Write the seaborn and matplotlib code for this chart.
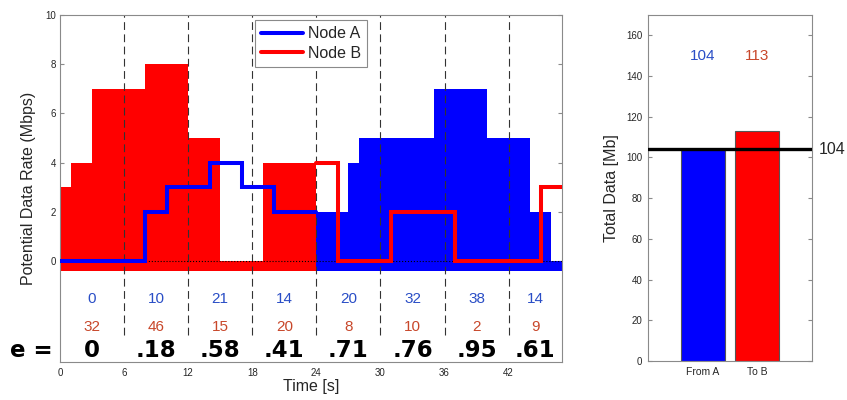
import matplotlib
matplotlib.use("Agg")
import numpy as np
import pandas as pd
import matplotlib.pyplot as plt
import seaborn as sns

# Potential data rate schedules (Mbps), piecewise constant between edges (s)
A_EDGES = [0, 8, 10, 14, 17, 20, 27, 28, 35, 40, 44, 46, 48]
A_RATE = [0, 2, 3, 4, 3, 2, 4, 5, 7, 5, 2, 0]
B_EDGES = [0, 1, 3, 8, 12, 15, 19, 26, 31, 37, 45, 48]
B_RATE = [3, 4, 7, 8, 5, 0, 4, 0, 2, 0, 3]

# Per-window data volumes and efficiency
WINDOW_EDGES = [0, 6, 12, 18, 24, 30, 36, 42, 47]
A_DATA = [0, 10, 21, 14, 20, 32, 38, 14]
B_DATA = [32, 46, 15, 20, 8, 10, 2, 9]
E_LABELS = ["0", ".18", ".58", ".41", ".71", ".76", ".95", ".61"]

# Totals
TOTAL_CATS = ["From A", "To B"]
TOTAL_VALS = [104, 113]
REFERENCE_TOTAL = 104

SWITCH_T = 24
BASE = -0.42
BLUE = "#0000ff"
RED = "#ff0000"
NUM_BLUE = "#2a4ec6"
NUM_RED = "#c8472a"
SPINE = "#8a8a8a"

sns.set_style("ticks")
plt.rcParams["font.family"] = ["Liberation Sans", "DejaVu Sans"]


def window(edges, rates, lo, hi):
    xs, ys = [], []
    for e0, e1, r in zip(edges[:-1], edges[1:], rates):
        s, e = max(e0, lo), min(e1, hi)
        if e > s:
            xs.append(s)
            ys.append(r)
    xs.append(hi)
    ys.append(ys[-1])
    return np.array(xs, float), np.array(ys, float)


fig = plt.figure(figsize=(8.47, 4.0), dpi=100)
ax = fig.add_axes([60 / 847, 38 / 400, 502 / 847, 347 / 400])
ax2 = fig.add_axes([648 / 847, 39 / 400, 164 / 847, 346 / 400])

# ---- left panel: rate schedules ----
bx, by = window(B_EDGES, B_RATE, 0, SWITCH_T)
ax.fill_between(bx, by, BASE, step="post", color=RED, lw=0, zorder=1)
ax_x, ax_y = window(A_EDGES, A_RATE, SWITCH_T, 48)
ax.fill_between(ax_x, ax_y, BASE, step="post", color=BLUE, lw=0, zorder=1)

ax.vlines(WINDOW_EDGES[1:-1], -3.0, 10, colors="#333333", lw=0.8,
          linestyles=(0, (7, 4)), zorder=2)
ax.axhline(0, color="black", ls=":", lw=0.8, zorder=2)

lx, ly = window(A_EDGES, A_RATE, 0, SWITCH_T)
rx, ry = window(B_EDGES, B_RATE, SWITCH_T, 48)
lines = pd.concat([
    pd.DataFrame({"t": lx, "rate": ly, "node": "Node A"}),
    pd.DataFrame({"t": rx, "rate": ry, "node": "Node B"}),
])
sns.lineplot(data=lines, x="t", y="rate", hue="node",
             palette={"Node A": BLUE, "Node B": RED},
             estimator=None, sort=False, drawstyle="steps-post",
             lw=2.9, ax=ax, zorder=4)
for ln in ax.get_lines():
    ln.set_solid_joinstyle("miter")

centers = [(a + b) / 2 for a, b in zip(WINDOW_EDGES[:-1], WINDOW_EDGES[1:])]
for c, a, b, e in zip(centers, A_DATA, B_DATA, E_LABELS):
    ax.text(c, -1.55, str(a), color=NUM_BLUE, fontsize=11,
            ha="center", va="center")
    ax.text(c, -2.67, str(b), color=NUM_RED, fontsize=11,
            ha="center", va="center")
    ax.text(c, -3.62, e, color="black", fontsize=16.5, fontweight="bold",
            family="DejaVu Sans", ha="center", va="center")
ax.text(-0.7, -3.62, "e =", color="black", fontsize=16.5, fontweight="bold",
        family="DejaVu Sans", ha="right", va="center", clip_on=False)

ax.set_xlim(0, 47)
ax.set_ylim(-4.1, 10)
ax.set_xticks(WINDOW_EDGES[:-1])
ax.set_yticks(range(0, 11, 2))
ax.tick_params(axis="y", direction="in", length=3, left=True, right=True,
               labelsize=7, pad=3, color=SPINE)
ax.tick_params(axis="x", length=0, labelsize=7, pad=4)
ax.set_xlabel("Time [s]", fontsize=11.5, labelpad=1)
ax.set_ylabel("Potential Data Rate (Mbps)", fontsize=11.5)
ax.yaxis.set_label_coords(-0.048, 0.5)
for sp in ax.spines.values():
    sp.set_color(SPINE)
    sp.set_linewidth(0.8)

leg = ax.legend(loc="upper center", bbox_to_anchor=(0.5, 0.986),
                fontsize=11.5, frameon=True, fancybox=False,
                edgecolor=SPINE, framealpha=1, handlelength=2.6,
                handletextpad=0.3, borderpad=0.4, labelspacing=0.3,
                borderaxespad=0)
leg.get_frame().set_linewidth(0.8)
for h in leg.get_lines():
    h.set_linewidth(2.9)

# ---- right panel: totals ----
totals = pd.DataFrame({"cat": TOTAL_CATS, "val": TOTAL_VALS})
sns.barplot(data=totals, x="cat", y="val", hue="cat",
            palette=[BLUE, RED], saturation=1, width=0.8, legend=False,
            edgecolor="#555555", linewidth=0.8, ax=ax2, zorder=1)
ax2.axhline(REFERENCE_TOTAL, color="black", lw=2.4, zorder=3)
ax2.text(2.12, REFERENCE_TOTAL, str(REFERENCE_TOTAL), fontsize=11.5,
         ha="left", va="center", clip_on=False)
for i, (v, col) in enumerate(zip(TOTAL_VALS, [NUM_BLUE, NUM_RED])):
    ax2.text(i, 150, str(v), color=col, fontsize=11, ha="center", va="center")

ax2.set_xlim(-1, 2)
ax2.set_ylim(0, 170)
ax2.set_yticks(range(0, 161, 20))
ax2.tick_params(axis="y", direction="in", length=3, left=True, right=True,
                labelsize=7, pad=4, color=SPINE)
ax2.tick_params(axis="x", length=0, labelsize=7.5, pad=4)
ax2.set_xlabel("")
ax2.set_ylabel("Total Data [Mb]", fontsize=11.5)
ax2.yaxis.set_label_coords(-0.175, 0.5)
for sp in ax2.spines.values():
    sp.set_color(SPINE)
    sp.set_linewidth(0.8)

fig.savefig("out.png", dpi=100)
